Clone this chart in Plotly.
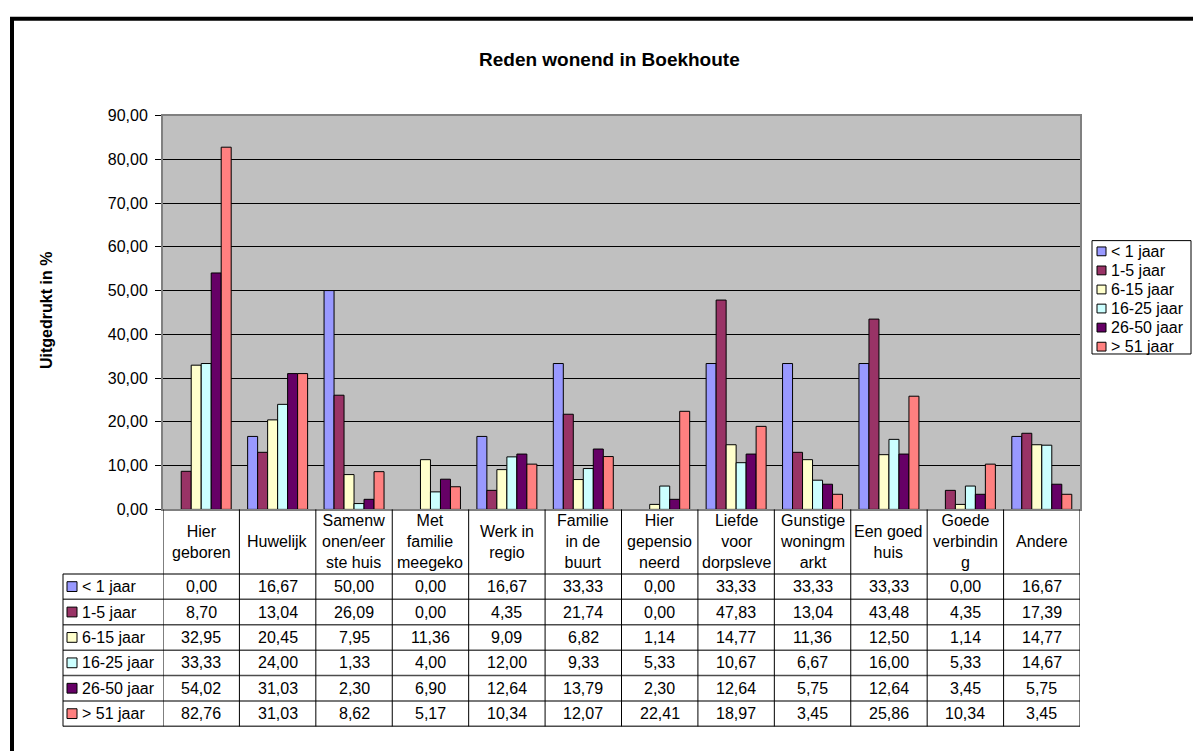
import plotly.graph_objects as go

# Data (percentages) per reason and per duration group
categories = [
    "Hier<br>geboren", "Huwelijk", "Samenw<br>onen/eer<br>ste huis", "Met<br>familie<br>meegeko",
    "Werk in<br>regio", "Familie<br>in de<br>buurt", "Hier<br>gepensio<br>neerd", "Liefde<br>voor<br>dorpsleve",
    "Gunstige<br>woningm<br>arkt", "Een goed<br>huis", "Goede<br>verbindin<br>g", "Andere",
]
groups = ["< 1 jaar", "1-5 jaar", "6-15 jaar", "16-25 jaar", "26-50 jaar", "> 51 jaar"]

lt_1 = [0.00, 16.67, 50.00, 0.00, 16.67, 33.33, 0.00, 33.33, 33.33, 33.33, 0.00, 16.67]
y1_5 = [8.70, 13.04, 26.09, 0.00, 4.35, 21.74, 0.00, 47.83, 13.04, 43.48, 4.35, 17.39]
y6_15 = [32.95, 20.45, 7.95, 11.36, 9.09, 6.82, 1.14, 14.77, 11.36, 12.50, 1.14, 14.77]
y16_25 = [33.33, 24.00, 1.33, 4.00, 12.00, 9.33, 5.33, 10.67, 6.67, 16.00, 5.33, 14.67]
y26_50 = [54.02, 31.03, 2.30, 6.90, 12.64, 13.79, 2.30, 12.64, 5.75, 12.64, 3.45, 5.75]
gt_51 = [82.76, 31.03, 8.62, 5.17, 10.34, 12.07, 22.41, 18.97, 3.45, 25.86, 10.34, 3.45]
series = [lt_1, y1_5, y6_15, y16_25, y26_50, gt_51]

colors = ["#9999FF", "#993366", "#FFFFCC", "#CCFFFF", "#660066", "#FF8080"]

W, H = 1193, 751
FONT = "Arial, Liberation Sans, sans-serif"


def px(x):
    return x / W


def py(y):
    return 1 - y / H


# layout positions (pixels)
PLOT_L, PLOT_R, PLOT_T, PLOT_B = 163, 1080, 110, 513
HEAD_B = 579
ROW_H = 26
TAB_L = 63

xs = list(range(len(categories)))

fig = go.Figure()
for name, vals, col in zip(groups, series, colors):
    fig.add_trace(go.Bar(
        x=xs, y=[v if v > 0 else None for v in vals], name=name,
        marker=dict(color=col, line=dict(color="black", width=1)),
        showlegend=False,
    ))

shapes = []
annotations = []

# outer frame
shapes.append(dict(type="rect", xref="paper", yref="paper", x0=px(12), x1=px(1220),
                   y0=py(11), y1=py(780), line=dict(color="black", width=4)))

# table: horizontal lines
for k in range(len(groups) + 1):
    yy = HEAD_B + k * ROW_H
    shapes.append(dict(type="line", xref="paper", yref="paper", x0=px(TAB_L), x1=px(PLOT_R),
                       y0=py(yy), y1=py(yy), line=dict(color="#4d4d4d", width=1.5)))
# table: vertical lines
for i in range(len(categories) + 1):
    shapes.append(dict(type="line", xref="x", yref="paper", x0=i - 0.5, x1=i - 0.5,
                       y0=py(PLOT_B), y1=py(HEAD_B + len(groups) * ROW_H),
                       line=dict(color="black", width=1)))
shapes.append(dict(type="line", xref="paper", yref="paper", x0=px(TAB_L), x1=px(TAB_L),
                   y0=py(HEAD_B), y1=py(HEAD_B + len(groups) * ROW_H),
                   line=dict(color="black", width=1)))

# header texts
for i, c in enumerate(categories):
    annotations.append(dict(x=i, y=py((PLOT_B + HEAD_B) / 2), xref="x", yref="paper", text=c,
                            showarrow=False, xanchor="center", yanchor="middle",
                            font=dict(size=16, color="black", family=FONT)))

# rows
for k, (name, vals, col) in enumerate(zip(groups, series, colors)):
    yc = HEAD_B + k * ROW_H + ROW_H / 2
    shapes.append(dict(type="rect", xref="paper", yref="paper", x0=px(67), x1=px(77),
                       y0=py(yc - 5), y1=py(yc + 5), fillcolor=col,
                       line=dict(color="black", width=1)))
    annotations.append(dict(x=px(80), y=py(yc), xref="paper", yref="paper", text=name,
                            showarrow=False, xanchor="left", yanchor="middle",
                            font=dict(size=16, color="black", family=FONT)))
    for i, v in enumerate(vals):
        annotations.append(dict(x=i, y=py(yc), xref="x", yref="paper",
                                text=f"{v:.2f}".replace(".", ","),
                                showarrow=False, xanchor="center", yanchor="middle",
                                font=dict(size=16, color="black", family=FONT)))

# legend (custom)
LEG_L, LEG_T, LEG_R, LEG_B = 1092, 238, 1191, 354
shapes.append(dict(type="rect", xref="paper", yref="paper", x0=px(LEG_L), x1=px(LEG_R),
                   y0=py(LEG_T), y1=py(LEG_B), fillcolor="white",
                   line=dict(color="black", width=1)))
for k, (name, col) in enumerate(zip(groups, colors)):
    yc = 249 + k * 19.5
    shapes.append(dict(type="rect", xref="paper", yref="paper", x0=px(1097), x1=px(1106),
                       y0=py(yc - 4.5), y1=py(yc + 4.5), fillcolor=col,
                       line=dict(color="black", width=1)))
    annotations.append(dict(x=px(1109), y=py(yc), xref="paper", yref="paper", text=name,
                            showarrow=False, xanchor="left", yanchor="middle",
                            font=dict(size=16, color="black", family=FONT)))

# titles
annotations.append(dict(x=px(609), y=py(53), xref="paper", yref="paper",
                        text="<b>Reden wonend in Boekhoute</b>", showarrow=False,
                        xanchor="center", yanchor="middle",
                        font=dict(size=19, color="black", family=FONT)))
annotations.append(dict(x=px(47), y=py(310), xref="paper", yref="paper",
                        text="<b>Uitgedrukt in %</b>", showarrow=False, textangle=-90,
                        xanchor="center", yanchor="middle",
                        font=dict(size=16, color="black", family=FONT)))

fig.update_layout(
    width=W, height=H,
    margin=dict(l=0, r=0, t=0, b=0),
    paper_bgcolor="white",
    plot_bgcolor="#C0C0C0",
    separators=",.",
    barmode="group",
    bargap=0.215,
    bargroupgap=0,
    font=dict(family=FONT, size=16, color="black"),
    xaxis=dict(domain=[px(PLOT_L), px(PLOT_R)], range=[-0.5, 11.5], showticklabels=False,
               ticks="", showgrid=False, zeroline=False, showline=True, mirror=True,
               linecolor="#808080", linewidth=2),
    yaxis=dict(domain=[py(PLOT_B), py(PLOT_T)], range=[0, 90], dtick=10, tickformat=".2f",
               ticks="outside", ticklen=6, tickcolor="black", ticklabelstandoff=4,
               showgrid=True, gridcolor="black", gridwidth=1, zeroline=False,
               showline=True, mirror=True, linecolor="#808080", linewidth=2,
               tickfont=dict(size=16)),
    shapes=shapes,
    annotations=annotations,
)

# drop the default page margin so the figure fills the window
fig.write_html("out.html", config={"displayModeBar": False},
               post_script="document.body.style.margin = '0';")
